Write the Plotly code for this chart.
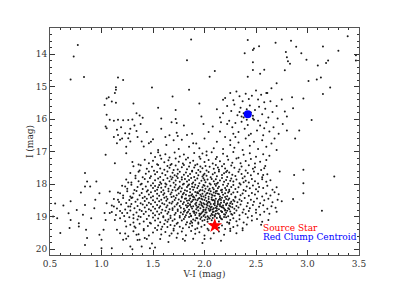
import plotly.graph_objects as go

# Color-magnitude diagram values: (V-I, I)
upper_left = [(0.77,13.72),(0.73,14.08),(0.70,14.78),(0.83,14.71),(1.16,14.72),(1.21,14.80),(1.14,15.02),(1.14,15.10),
    (1.13,15.20),(1.07,15.33),(1.05,15.37),(1.03,15.57),(1.10,15.46),(1.14,15.50),(1.31,15.52),(1.49,15.03),(1.55,15.65),
    (1.58,15.98),(1.69,15.31),(1.72,15.72),(1.72,16.00),(1.73,16.12),(1.73,16.42),(1.74,16.52),(1.66,16.50),(1.87,13.55),
    (1.83,14.19),(1.85,15.10),(2.05,14.70),(2.10,14.52),(1.95,15.52),(1.97,15.92)]
blue_plume = [(1.05,15.87),(1.04,16.23),(1.05,16.28),(1.08,16.02),(1.12,16.05),(1.16,16.02),(1.21,16.04),(1.26,16.03),
    (1.30,16.01),(1.34,15.82),(1.37,15.89),(1.40,15.96),(1.15,16.33),(1.16,16.49),(1.18,16.64),(1.15,16.74),(1.23,16.44),
    (1.26,16.59),(1.28,16.69),(1.27,16.45),(1.32,16.20),(1.34,16.37),(1.35,16.55),(1.39,16.69),(1.41,16.84),(1.46,16.74),
    (1.48,16.70),(1.04,17.10),(1.13,17.36),(1.24,16.85),(1.24,17.05),(1.20,16.60),(1.28,16.30),(1.38,16.15),(1.44,16.40),
    (1.50,16.62),(1.12,16.55),(1.19,16.25)]
middle = [(1.58,16.30),(1.63,16.80),(1.70,16.65),(1.80,16.20),(1.88,16.45),(1.92,16.75),(1.95,16.90),(2.00,16.60),
    (2.04,16.40),(2.08,16.23),(2.12,16.70),(2.15,16.38),(2.18,16.92),(2.20,16.55),(2.22,16.15),(2.25,16.80),(2.28,16.45),
    (1.55,16.95),(1.75,16.92),(1.85,16.85),(1.62,16.55),(1.99,16.15),(2.09,16.90),(1.68,16.10),(1.78,16.64),(1.83,16.49),
    (1.89,16.74),(2.02,17.00)]
red_clump = [(2.20,15.35),(2.25,15.20),(2.28,15.42),(2.31,15.15),(2.34,15.30),(2.37,15.45),(2.40,15.22),(2.43,15.38),
    (2.46,15.28),(2.50,15.12),(2.52,15.40),(2.55,15.25),(2.58,15.48),(2.61,15.20),(2.64,15.45),(2.22,15.60),(2.26,15.75),
    (2.29,15.55),(2.32,15.88),(2.35,15.65),(2.38,15.95),(2.41,15.70),(2.44,15.58),(2.47,15.90),(2.49,15.72),(2.53,15.62),
    (2.56,15.85),(2.59,15.68),(2.62,15.95),(2.66,15.78),(2.70,15.60),(2.24,16.05),(2.27,16.25),(2.30,16.12),(2.33,16.40),
    (2.36,16.08),(2.39,16.30),(2.42,16.18),(2.45,16.45),(2.48,16.02),(2.51,16.35),(2.54,16.20),(2.57,16.50),(2.60,16.10),
    (2.63,16.38),(2.67,16.25),(2.72,16.45),(2.76,16.15),(2.80,16.35),(2.25,16.65),(2.29,16.88),(2.33,16.72),(2.37,16.95),
    (2.40,16.60),(2.44,16.82),(2.48,16.70),(2.52,16.92),(2.56,16.65),(2.60,16.85),(2.65,16.75),(2.70,16.95),(2.12,15.70),
    (2.15,15.95),(2.18,15.82),(2.16,16.10),(2.34,15.78),(2.38,15.82),(2.45,15.80),(2.47,15.98),(2.36,15.92),(2.52,16.05),
    (2.41,16.02),(2.30,16.55),(2.43,16.50),(2.58,16.28),(2.68,16.60)]
upper_right = [(2.39,13.98),(2.42,13.57),(2.47,13.88),(2.48,13.83),(2.53,13.76),(2.69,13.65),(2.79,13.94),(2.84,13.59),
    (2.89,13.78),(2.94,13.98),(2.80,14.10),(2.81,14.22),(2.83,14.30),(2.78,14.50),(2.99,14.18),(3.10,14.35),(3.15,13.77),
    (3.39,13.45),(3.30,13.90),(3.20,14.20),(3.18,14.28),(3.13,14.72),(3.22,15.03),(3.15,15.23),(3.09,14.78),(3.01,14.83),
    (2.96,15.37),(2.85,15.33),(2.86,15.67),(2.80,15.92),(2.78,15.77),(2.71,15.98),(3.04,16.03),(3.47,14.04),(3.47,14.20),
    (2.60,15.20),(2.54,14.61),(2.58,14.48),(2.47,14.25),(2.47,14.49),(2.42,14.70),(2.18,15.41),(2.92,16.35),(2.88,16.60),
    (2.87,17.72),(2.96,17.56),(3.26,17.77),(2.96,18.28),(2.86,18.46),(3.14,18.82),(2.73,17.61),(2.58,17.51),(2.57,17.72),
    (2.96,17.97),(2.70,14.90),(2.65,15.05),(2.75,15.40)]
lower_left = [(0.55,18.60),(0.63,18.66),(0.53,19.00),(0.57,19.05),(0.68,18.90),(0.70,19.10),(0.69,19.35),(0.60,19.50),
    (0.78,19.20),(0.78,19.30),(0.76,18.80),(0.84,18.64),(0.82,18.94),(0.85,19.40),(0.86,19.66),(0.84,19.87),(0.90,19.05),
    (0.94,18.48),(0.93,18.74),(0.98,19.56),(1.00,19.71),(1.02,19.40),(1.04,19.10),(1.03,18.89),(1.05,18.59),(0.98,18.28),
    (0.84,17.66),(0.86,17.92),(0.84,18.07),(0.95,17.92),(1.08,18.23),(1.08,18.89),(1.12,18.69),(1.13,19.10),(1.15,19.40),
    (1.18,19.51),(1.21,19.71),(1.10,19.97),(1.00,19.97),(1.28,19.92),(1.30,20.00),(1.24,19.30),(1.23,19.52),(1.26,19.60),
    (1.24,19.68),(1.20,18.89),(1.16,18.48),(1.18,18.28),(1.23,18.07),(1.26,17.95),(1.29,18.43),(1.28,18.69),(1.31,19.05),
    (1.32,19.30),(1.34,19.56),(1.37,19.71),(1.39,19.92),(0.70,18.53),(0.80,18.26),(0.89,18.07),(1.47,19.97),(1.44,19.69)]
clump_top = [(1.48,17.05),(1.55,17.02),(1.57,17.12),(1.62,17.08),(1.66,17.18),(1.71,17.03),(1.76,17.15),(1.80,17.09),
    (1.84,17.19),(1.90,17.04),(1.95,17.16),(2.02,17.11),(2.07,17.02),(2.12,17.17),(2.18,17.07),(2.22,17.14),(2.28,17.01),
    (2.33,17.19),(2.38,17.10),(2.44,17.05),(2.50,17.16),(2.57,17.08),(2.63,17.13),(1.52,17.17),(1.98,17.06),
    (1.42,17.25),(1.46,17.36),(1.50,17.28),(1.54,17.39),(1.58,17.22),(1.61,17.33),(1.65,17.27),(1.68,17.38),(1.72,17.21),
    (1.75,17.31),(1.79,17.37),(1.82,17.24),(1.86,17.34),(1.89,17.28),(1.93,17.39),(1.96,17.22),(2.00,17.32),(2.04,17.26),
    (2.08,17.37),(2.11,17.23),(2.15,17.30),(2.19,17.38),(2.23,17.25),(2.27,17.34),(2.31,17.21),(2.35,17.36),(2.40,17.29),
    (2.45,17.23),(2.49,17.37),(2.54,17.31),(2.60,17.26),(1.30,17.32),(1.36,17.40),
    (1.31,17.45),(1.37,17.58),(1.38,17.42),(1.44,17.53),(1.49,17.47),(1.51,17.59),(1.55,17.41),(1.57,17.52),(1.61,17.56),
    (1.64,17.44),(1.66,17.50),(1.70,17.57),(1.72,17.43),(1.74,17.55),(1.78,17.48),(1.80,17.41),(1.83,17.54),(1.85,17.46),
    (1.88,17.59),(1.90,17.49),(1.91,17.42),(1.94,17.57),(1.98,17.51),(2.01,17.44),(2.02,17.58),(2.05,17.47),(2.09,17.53),
    (2.11,17.41),(2.14,17.56),(2.17,17.45),(2.20,17.52),(2.22,17.59),(2.26,17.43),(2.29,17.50),(2.34,17.55),(2.36,17.46),
    (2.40,17.58),(2.43,17.42),(2.47,17.53),(2.49,17.48),(2.55,17.57),(2.59,17.44),(1.67,17.41),(1.96,17.46),(2.13,17.49),
    (1.28,17.66),(1.33,17.74),(1.36,17.62),(1.40,17.79),(1.43,17.68),(1.46,17.61),(1.48,17.76),(1.52,17.70),(1.54,17.63),
    (1.57,17.78),(1.59,17.67),(1.62,17.72),(1.64,17.61),(1.67,17.77),(1.69,17.65),(1.71,17.73),(1.74,17.68),(1.76,17.62),
    (1.78,17.79),(1.80,17.71),(1.82,17.64),(1.84,17.75),(1.86,17.69),(1.88,17.61),(1.90,17.78),(1.92,17.66),(1.94,17.73),
    (1.96,17.62),(1.98,17.77),(2.00,17.68),(2.02,17.74),(2.04,17.63),(2.06,17.79),(2.08,17.70),(2.10,17.65),(2.12,17.76),
    (2.14,17.61),(2.17,17.72),(2.19,17.67),(2.22,17.78),(2.24,17.64),(2.27,17.71),(2.30,17.75),(2.33,17.62),(2.36,17.69),
    (2.39,17.77),(2.42,17.66),(2.45,17.73),(2.48,17.61),(2.52,17.68),(2.56,17.79),(2.61,17.70),(1.73,17.76),(1.99,17.72),
    (2.21,17.63)]
clump_mid = [(1.24,17.86),(1.29,17.95),(1.33,17.82),(1.36,17.91),(1.39,17.99),(1.42,17.84),(1.45,17.93),(1.47,17.81),
    (1.50,17.97),(1.52,17.88),(1.55,17.83),(1.57,17.94),(1.60,17.87),(1.62,17.98),(1.64,17.82),(1.66,17.91),(1.68,17.85),
    (1.70,17.96),(1.72,17.89),(1.74,17.81),(1.76,17.93),(1.78,17.86),(1.80,17.99),(1.81,17.84),(1.83,17.92),(1.85,17.87),
    (1.87,17.81),(1.89,17.95),(1.91,17.88),(1.93,17.83),(1.95,17.97),(1.97,17.90),(1.99,17.82),(2.01,17.94),(2.03,17.86),
    (2.05,17.98),(2.07,17.84),(2.09,17.91),(2.11,17.85),(2.13,17.96),(2.15,17.89),(2.17,17.81),(2.19,17.93),(2.21,17.87),
    (2.23,17.99),(2.26,17.83),(2.28,17.92),(2.31,17.86),(2.34,17.97),(2.37,17.82),(2.40,17.90),(2.43,17.95),(2.46,17.84),
    (2.49,17.91),(2.52,17.98),(2.56,17.85),(2.60,17.93),(2.64,17.88),(1.88,17.99),(2.00,17.87),(1.69,17.80),(2.12,17.99),
    (2.25,17.90),(1.58,17.99),(2.38,17.94),
    (1.20,18.05),(1.25,18.14),(1.29,18.02),(1.32,18.18),(1.35,18.09),(1.38,18.01),(1.40,18.15),(1.43,18.07),(1.45,18.19),
    (1.48,18.04),(1.50,18.12),(1.52,18.06),(1.54,18.17),(1.56,18.03),(1.58,18.11),(1.60,18.19),(1.62,18.08),(1.63,18.01),
    (1.65,18.14),(1.67,18.05),(1.69,18.18),(1.71,18.10),(1.72,18.02),(1.74,18.16),(1.76,18.07),(1.78,18.13),(1.79,18.01),
    (1.81,18.19),(1.83,18.09),(1.84,18.04),(1.86,18.15),(1.88,18.08),(1.89,18.17),(1.91,18.02),(1.93,18.12),(1.94,18.06),
    (1.96,18.18),(1.98,18.10),(1.99,18.03),(2.01,18.14),(2.03,18.07),(2.04,18.19),(2.06,18.01),(2.08,18.11),(2.09,18.16),
    (2.11,18.05),(2.13,18.13),(2.14,18.08),(2.16,18.19),(2.18,18.02),(2.20,18.12),(2.22,18.06),(2.24,18.17),(2.26,18.09),
    (2.28,18.03),(2.30,18.15),(2.33,18.10),(2.35,18.01),(2.38,18.18),(2.41,18.07),(2.44,18.13),(2.47,18.04),(2.50,18.16),
    (2.53,18.09),(2.57,18.12),(2.61,18.05),(2.66,18.17),(2.70,18.10),(1.90,18.10),(2.00,18.05),(1.75,18.12),(2.10,18.00),
    (1.85,18.01),(2.21,18.18),(1.55,18.10),
    (1.16,18.26),(1.21,18.35),(1.25,18.22),(1.28,18.38),(1.31,18.29),(1.34,18.21),(1.37,18.34),(1.39,18.27),(1.42,18.39),
    (1.44,18.23),(1.46,18.32),(1.48,18.25),(1.50,18.37),(1.52,18.21),(1.54,18.30),(1.56,18.36),(1.58,18.24),(1.60,18.33),
    (1.61,18.28),(1.63,18.39),(1.65,18.22),(1.67,18.31),(1.68,18.26),(1.70,18.37),(1.72,18.20),(1.73,18.34),(1.75,18.29),
    (1.77,18.23),(1.78,18.38),(1.80,18.27),(1.82,18.33),(1.83,18.21),(1.85,18.36),(1.86,18.25),(1.88,18.31),(1.89,18.39),
    (1.91,18.24),(1.92,18.35),(1.94,18.28),(1.95,18.21),(1.97,18.37),(1.98,18.30),(2.00,18.23),(2.01,18.34),(2.03,18.27),
    (2.04,18.39),(2.06,18.22),(2.07,18.32),(2.09,18.26),(2.10,18.36),(2.12,18.21),(2.13,18.30),(2.15,18.38),(2.17,18.25),
    (2.18,18.33),(2.20,18.28),(2.22,18.37),(2.24,18.22),(2.26,18.31),(2.28,18.26),(2.30,18.39),(2.32,18.24),(2.35,18.34),
    (2.37,18.29),(2.40,18.21),(2.43,18.36),(2.46,18.27),(2.49,18.32),(2.52,18.23),(2.56,18.38),(2.60,18.29),(2.64,18.35),
    (2.68,18.25),(2.72,18.31),(1.93,18.25),(2.05,18.30),(1.87,18.35),(2.11,18.28),(1.99,18.38),(1.79,18.31)]
clump_core = [(1.12,18.46),(1.17,18.55),(1.21,18.43),(1.24,18.58),(1.27,18.49),(1.30,18.41),(1.33,18.54),(1.35,18.47),
    (1.38,18.59),(1.40,18.43),(1.42,18.52),(1.44,18.45),(1.46,18.57),(1.48,18.41),(1.50,18.50),(1.52,18.56),(1.54,18.44),
    (1.56,18.53),(1.58,18.48),(1.59,18.59),(1.61,18.42),(1.63,18.51),(1.64,18.46),(1.66,18.57),(1.68,18.40),(1.69,18.54),
    (1.71,18.49),(1.72,18.43),(1.74,18.58),(1.75,18.47),(1.77,18.53),(1.78,18.41),(1.80,18.56),(1.81,18.45),(1.83,18.51),
    (1.84,18.59),(1.86,18.44),(1.87,18.55),(1.89,18.48),(1.90,18.41),(1.92,18.57),(1.93,18.50),(1.95,18.43),(1.96,18.54),
    (1.98,18.47),(1.99,18.59),(2.01,18.42),(2.02,18.52),(2.04,18.46),(2.05,18.56),(2.07,18.41),(2.08,18.50),(2.10,18.58),
    (2.11,18.45),(2.13,18.53),(2.14,18.48),(2.16,18.57),(2.17,18.42),(2.19,18.51),(2.21,18.46),(2.22,18.59),(2.24,18.44),
    (2.26,18.54),(2.28,18.49),(2.30,18.41),(2.32,18.56),(2.34,18.47),(2.36,18.52),(2.39,18.43),(2.42,18.58),(2.45,18.48),
    (2.48,18.54),(2.51,18.44),(2.54,18.59),(2.58,18.50),(2.62,18.45),(2.66,18.56),(2.71,18.48),(2.75,18.53),(1.97,18.45),
    (2.09,18.49),(1.85,18.50),(2.03,18.58),(1.91,18.47),(2.15,18.44),
    (1.10,18.66),(1.15,18.75),(1.19,18.63),(1.23,18.78),(1.26,18.69),(1.29,18.61),(1.32,18.74),(1.35,18.67),(1.37,18.79),
    (1.40,18.63),(1.42,18.72),(1.44,18.65),(1.46,18.77),(1.48,18.61),(1.50,18.70),(1.52,18.76),(1.54,18.64),(1.56,18.73),
    (1.57,18.68),(1.59,18.79),(1.61,18.62),(1.63,18.71),(1.64,18.66),(1.66,18.77),(1.68,18.60),(1.69,18.74),(1.71,18.69),
    (1.73,18.63),(1.74,18.78),(1.76,18.67),(1.77,18.73),(1.79,18.61),(1.80,18.76),(1.82,18.65),(1.83,18.71),(1.85,18.79),
    (1.86,18.64),(1.88,18.75),(1.89,18.68),(1.91,18.61),(1.92,18.77),(1.94,18.70),(1.95,18.63),(1.96,18.74),(1.98,18.67),
    (1.99,18.79),(2.00,18.62),(2.02,18.72),(2.03,18.66),(2.04,18.76),(2.06,18.61),(2.07,18.70),(2.08,18.78),(2.10,18.65),
    (2.11,18.73),(2.12,18.68),(2.14,18.77),(2.15,18.62),(2.17,18.71),(2.18,18.66),(2.20,18.79),(2.21,18.64),(2.23,18.74),
    (2.25,18.69),(2.27,18.61),(2.29,18.76),(2.31,18.67),(2.33,18.72),(2.35,18.63),(2.38,18.78),(2.41,18.68),(2.44,18.74),
    (2.47,18.64),(2.50,18.79),(2.53,18.70),(2.57,18.65),(2.61,18.76),(2.65,18.68),(2.69,18.73),(2.05,18.68),(1.97,18.64),
    (2.09,18.74),(2.13,18.63),(1.93,18.72),(2.01,18.78),(2.16,18.69),(2.19,18.75),(1.87,18.70),(2.24,18.66),(2.06,18.79)]
clump_center = [(1.86,18.62),(1.88,18.53),(1.90,18.84),(1.92,18.66),(1.94,18.45),(1.95,18.91),(1.97,18.58),(1.99,18.71),
    (2.00,18.49),(2.01,18.87),(2.02,18.63),(2.04,18.54),(2.05,18.81),(2.06,18.73),(2.07,18.47),(2.08,18.95),(2.09,18.61),
    (2.10,18.52),(2.11,18.83),(2.12,18.75),(2.13,18.58),(2.14,18.92),(2.15,18.67),(2.16,18.49),(2.17,18.86),(2.18,18.72),
    (2.19,18.56),(2.20,18.94),(2.21,18.61),(2.22,18.82),(2.23,18.48),(2.24,18.77),(2.25,18.59),(1.89,18.38),(1.93,18.27),
    (1.96,18.33),(1.98,18.19),(2.02,18.29),(2.05,18.14),(2.08,18.35),(2.11,18.22),(2.14,18.31),(2.17,18.17),(2.20,18.40),
    (2.23,18.26),(1.87,18.97),(1.93,19.05),(1.99,18.98),(2.04,19.03),(2.10,19.00),(2.16,19.06),(2.21,19.02),(1.84,18.67),
    (1.82,18.44),(2.27,18.71),(2.29,18.53),(1.80,18.85),(2.26,18.92)]
clump_low = [(1.10,18.86),(1.14,18.95),(1.18,18.83),(1.22,18.98),(1.25,18.89),(1.28,18.81),(1.31,18.94),(1.34,18.87),
    (1.36,18.99),(1.39,18.83),(1.41,18.92),(1.43,18.85),(1.46,18.97),(1.48,18.81),(1.50,18.90),(1.52,18.96),(1.54,18.84),
    (1.56,18.93),(1.58,18.88),(1.60,18.99),(1.62,18.82),(1.64,18.91),(1.65,18.86),(1.67,18.97),(1.69,18.80),(1.71,18.94),
    (1.72,18.89),(1.74,18.83),(1.76,18.98),(1.77,18.87),(1.79,18.93),(1.81,18.81),(1.82,18.96),(1.84,18.85),(1.86,18.91),
    (1.87,18.99),(1.89,18.84),(1.91,18.95),(1.92,18.88),(1.94,18.81),(1.95,18.97),(1.97,18.90),(1.99,18.83),(2.00,18.94),
    (2.02,18.87),(2.03,18.99),(2.05,18.82),(2.07,18.92),(2.08,18.86),(2.10,18.96),(2.12,18.81),(2.13,18.90),(2.15,18.98),
    (2.17,18.85),(2.19,18.93),(2.21,18.88),(2.23,18.99),(2.25,18.84),(2.27,18.94),(2.29,18.89),(2.31,18.81),(2.34,18.96),
    (2.37,18.87),(2.40,18.92),(2.43,18.83),(2.46,18.98),(2.50,18.88),(2.54,18.94),(2.58,18.85),(2.63,18.91),(1.98,18.86),
    (2.11,18.91),(2.06,18.97),(2.16,18.83),(1.90,18.89),(2.01,18.80),(1.83,18.88),(2.20,18.81),(2.09,18.85),(1.96,18.93),
    (1.18,19.05),(1.23,19.14),(1.27,19.02),(1.31,19.18),(1.35,19.09),(1.38,19.01),(1.41,19.15),(1.44,19.07),(1.47,19.19),
    (1.50,19.03),(1.52,19.12),(1.55,19.06),(1.57,19.17),(1.60,19.02),(1.62,19.11),(1.64,19.16),(1.67,19.04),(1.69,19.13),
    (1.71,19.08),(1.74,19.19),(1.76,19.03),(1.78,19.12),(1.80,19.07),(1.83,19.17),(1.85,19.01),(1.87,19.14),(1.89,19.09),
    (1.92,19.04),(1.94,19.18),(1.96,19.07),(1.98,19.13),(2.01,19.02),(2.03,19.16),(2.05,19.06),(2.07,19.11),(2.10,19.19),
    (2.12,19.04),(2.14,19.15),(2.17,19.08),(2.19,19.01),(2.22,19.17),(2.25,19.10),(2.28,19.05),(2.31,19.14),(2.34,19.08),
    (2.38,19.18),(2.42,19.03),(2.46,19.12),(2.51,19.07),(2.56,19.16),(1.97,19.02),(2.08,19.04),(1.88,19.19),(2.00,19.10),
    (2.15,19.02),(1.81,19.01),(2.24,19.19),(1.65,19.09),(2.03,19.08),(1.91,19.12),
    (1.28,19.25),(1.33,19.34),(1.37,19.22),(1.41,19.38),(1.45,19.29),(1.48,19.21),(1.52,19.35),(1.55,19.27),(1.58,19.39),
    (1.61,19.23),(1.64,19.32),(1.67,19.26),(1.70,19.37),(1.73,19.22),(1.76,19.31),(1.79,19.36),(1.82,19.24),(1.85,19.33),
    (1.88,19.28),(1.91,19.39),(1.94,19.22),(1.97,19.31),(2.00,19.26),(2.03,19.37),(2.06,19.23),(2.14,19.34),(2.17,19.27),
    (2.20,19.38),(2.24,19.22),(2.28,19.32),(2.32,19.27),(2.37,19.36),(2.41,19.24),(1.93,19.36),(2.09,19.21),(1.71,19.28),
    (1.86,19.21),(2.12,19.38),(1.59,19.31),(2.25,19.37),
    (1.31,19.45),(1.36,19.54),(1.41,19.42),(1.46,19.58),(1.50,19.49),(1.54,19.41),(1.58,19.55),(1.62,19.47),(1.66,19.59),
    (1.70,19.43),(1.74,19.52),(1.78,19.46),(1.82,19.57),(1.87,19.44),(1.91,19.53),(1.95,19.48),(2.00,19.58),(2.04,19.42),
    (2.09,19.51),(2.14,19.46),(2.19,19.56),(2.25,19.44),(2.31,19.51),(2.37,19.42),(1.68,19.52),
    (1.35,19.72),(1.42,19.66),(1.49,19.83),(1.52,19.95),(1.57,19.69),(1.65,19.78),(1.73,19.65),(1.81,19.74),(1.89,19.68),
    (1.98,19.81),(2.06,19.67),(2.16,19.74),(2.00,19.69),(1.79,19.69),(2.55,19.25),(2.62,19.10),(2.70,18.85)]

source_star = (2.10, 19.28)
red_clump_centroid = (2.42, 15.85)

x_ticks = [0.5, 1.0, 1.5, 2.0, 2.5, 3.0, 3.5]
x_ticktext = ["0.5", "1.0", "1.5", "2.0", "2.5", "3.0", "3.5"]
y_ticks = [14, 15, 16, 17, 18, 19, 20]

stars = (upper_left + blue_plume + middle + red_clump + upper_right + lower_left
         + clump_top + clump_mid + clump_core + clump_center + clump_low)

FONT = "DejaVu Serif"
fig = go.Figure()
fig.add_trace(go.Scatter(x=[p[0] for p in stars], y=[p[1] for p in stars], mode="markers",
                         marker=dict(size=2, color="#1a1a1a", symbol="circle", line=dict(width=0)),
                         showlegend=False, hoverinfo="skip"))
fig.add_trace(go.Scatter(x=[source_star[0]], y=[source_star[1]], mode="markers",
                         marker=dict(size=11, color="red", symbol="star", line=dict(width=0)), showlegend=False))
fig.add_trace(go.Scatter(x=[red_clump_centroid[0]], y=[red_clump_centroid[1]], mode="markers",
                         marker=dict(size=8, color="blue", symbol="circle", line=dict(width=0)), showlegend=False))

fig.add_annotation(x=2.553, y=19.34, text="Source Star", showarrow=False, xanchor="left", yanchor="middle",
                   font=dict(family=FONT, size=9, color="red"))
fig.add_annotation(x=2.553, y=19.64, text="Red Clump Centroid", showarrow=False, xanchor="left", yanchor="middle",
                   font=dict(family=FONT, size=9, color="blue"))

axis_common = dict(showline=True, linecolor="#555555", linewidth=1, mirror="allticks", ticks="inside",
                   tickcolor="#333333", ticklen=5, showgrid=False, zeroline=False, automargin=False,
                   tickfont=dict(family=FONT, size=9, color="#333333"))
fig.update_xaxes(range=[0.5, 3.5], tickvals=x_ticks, ticktext=x_ticktext,
                 minor=dict(dtick=0.1, ticks="inside", ticklen=2, tickcolor="#333333"),
                 title=dict(text="V-I (mag)", font=dict(family=FONT, size=9, color="#333333"), standoff=2),
                 **axis_common)
fig.update_yaxes(range=[20.18, 13.2], tickvals=y_ticks,
                 minor=dict(dtick=0.2, ticks="inside", ticklen=2, tickcolor="#333333"),
                 title=dict(text="I (mag)", font=dict(family=FONT, size=9, color="#333333"), standoff=0),
                 **axis_common)
fig.update_layout(width=399, height=285, margin=dict(l=50, r=40, t=28, b=30),
                  plot_bgcolor="white", paper_bgcolor="white")
fig.write_html("out.html", config={"displayModeBar": False},
               post_script="document.body.style.margin='0';")
